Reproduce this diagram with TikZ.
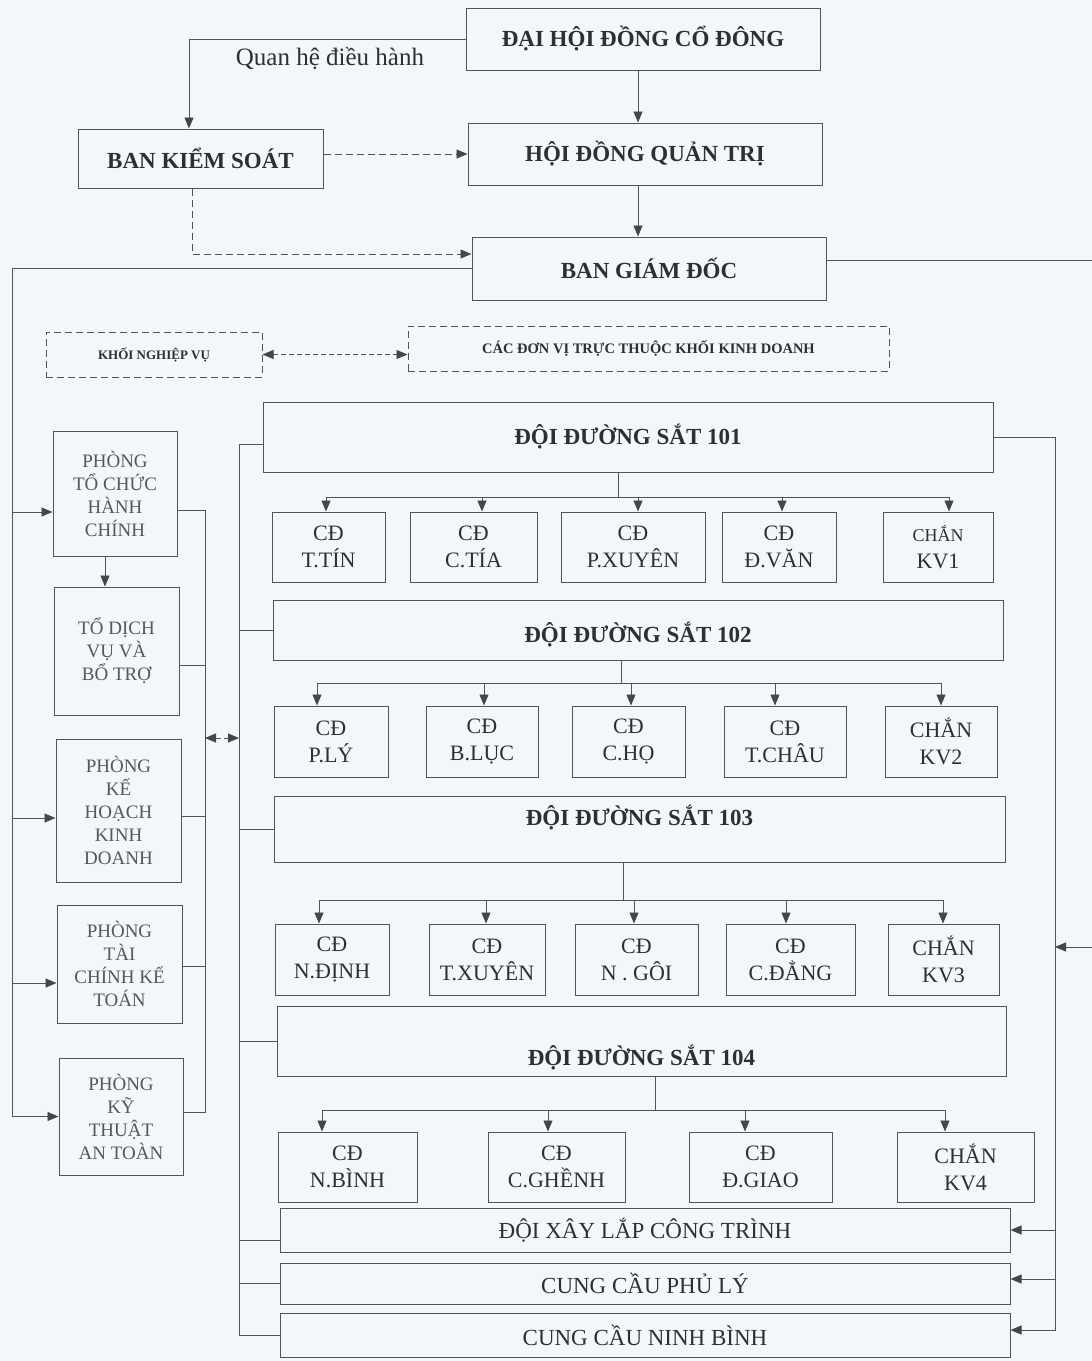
\documentclass[tikz,border=0pt]{standalone}
\usepackage{fontspec}
\setmainfont{Liberation Serif}
\usetikzlibrary{arrows.meta}
\definecolor{bgc}{RGB}{244,247,249}
\definecolor{linec}{RGB}{80,84,86}
\definecolor{textc}{RGB}{45,47,49}
\definecolor{lightt}{RGB}{85,88,90}
\definecolor{arrc}{RGB}{60,74,72}
\begin{document}
\begin{tikzpicture}[x=1pt,y=-1pt,
  box/.style={draw=linec, line width=1pt, align=center, text=textc, inner sep=2pt},
  bx/.style 2 args={box, minimum width=#1, minimum height=#2},
  big/.style={font=\fontsize{23}{27}\selectfont\bfseries},
  mid/.style={font=\fontsize{22}{27}\selectfont},
  lft/.style={font=\fontsize{19}{23}\selectfont, text=lightt},
  wide/.style={font=\fontsize{23}{27}\selectfont},
  sml/.style={font=\fontsize{13}{15}\selectfont\bfseries},
  ln/.style={draw=linec, line width=0.9pt},
  arr/.style={ln, -{Triangle[length=11pt,width=9pt,color=arrc]}},
  dsh/.style={dash pattern=on 7pt off 4pt},
  dbl/.style={ln, dash pattern=on 5pt off 3pt, {Triangle[length=11pt,width=9pt,color=arrc]}-{Triangle[length=11pt,width=9pt,color=arrc]}},
]
\fill[bgc] (0,0) rectangle (1092,1361);
\useasboundingbox (0,0) rectangle (1092,1361);

% top level
\node[bx={354}{62}, big] (dhd) at (643,39) {ĐẠI HỘI ĐỒNG CỔ ĐÔNG};
\node[bx={245}{59}, big] (bks) at (200.5,158.5) {BAN KIỂM SOÁT};
\node[bx={354}{62}, big] (hdqt) at (645,154) {HỘI ĐỒNG QUẢN TRỊ};
\node[bx={354}{63}, big] (bgd) at (649,268.5) {BAN GIÁM ĐỐC};
\node[font=\fontsize{25}{29}\selectfont, text=textc] (qh) at (330,59) {Quan hệ điều hành};

\node[bx={216}{45}, sml, dsh] (knv) at (154,354.5) {KHỐI NGHIỆP VỤ};
\node[bx={481}{45}, font=\fontsize{14.5}{16}\selectfont\bfseries, dsh] (cdv) at (648.5,348.5) {CÁC ĐƠN VỊ TRỰC THUỘC KHỐI KINH DOANH};

% left column
\node[bx={124}{125}, lft] (ptc) at (115,493.5) {PHÒNG\\TỔ CHỨC\\HÀNH\\CHÍNH};
\node[bx={125}{128}, lft] (tdv) at (116.5,651) {TỔ DỊCH\\VỤ VÀ\\BỔ TRỢ};
\node[bx={125}{143}, lft] (pkh) at (118.5,810.5) {PHÒNG\\KẾ\\HOẠCH\\KINH\\DOANH};
\node[bx={125}{118}, lft] (ptck) at (119.5,964) {PHÒNG\\TÀI\\CHÍNH KẾ\\TOÁN};
\node[bx={124}{117}, lft] (pkt) at (121,1116.5) {PHÒNG\\KỸ\\THUẬT\\AN TOÀN};

% railway teams
\node[bx={730}{70}, label={[big,text=textc]center:ĐỘI ĐƯỜNG SẮT 101}] (d101) at (628,437) {};
\node[bx={730}{60}, label={[big,text=textc,yshift=-5pt]center:ĐỘI ĐƯỜNG SẮT 102}] (d102) at (638,630) {};
\node[bx={731}{66}, label={[big,text=textc,yshift=11pt]center:ĐỘI ĐƯỜNG SẮT 103}] (d103) at (639.5,829) {};
\node[bx={729}{70}, label={[big,text=textc,yshift=-17pt]center:ĐỘI ĐƯỜNG SẮT 104}] (d104) at (641.5,1041) {};

% row 1
\node[bx={113}{70}, mid] (r1a) at (328.5,547) {CĐ\\T.TÍN};
\node[bx={127}{70}, mid] (r1b) at (473.5,547) {CĐ\\C.TÍA};
\node[bx={144}{70}, mid] (r1c) at (633,547) {CĐ\\P.XUYÊN};
\node[bx={114}{70}, mid] (r1d) at (779,547) {CĐ\\Đ.VĂN};
\node[bx={110}{70}, mid] (r1e) at (938,547) {{\fontsize{18}{20}\selectfont CHẮN}\\KV1};
% row 2
\node[bx={114}{71}, mid] (r2a) at (331,741.5) {CĐ\\P.LÝ};
\node[bx={112}{71}, mid] (r2b) at (482,741.5) {CĐ\\B.LỤC};
\node[bx={113}{71}, mid] (r2c) at (628.5,741.5) {CĐ\\C.HỌ};
\node[bx={122}{71}, mid] (r2d) at (785,741.5) {CĐ\\T.CHÂU};
\node[bx={112}{71}, mid] (r2e) at (941,741.5) {CHẮN\\KV2};
% row 3
\node[bx={114}{71}, mid] (r3a) at (332,959.5) {CĐ\\N.ĐỊNH};
\node[bx={116}{71}, mid] (r3b) at (487,959.5) {CĐ\\T.XUYÊN};
\node[bx={123}{71}, mid] (r3c) at (636.5,959.5) {CĐ\\N . GÔI};
\node[bx={129}{71}, mid] (r3d) at (790.5,959.5) {CĐ\\C.ĐẲNG};
\node[bx={111}{71}, mid] (r3e) at (943.5,959.5) {CHẮN\\KV3};
% row 4
\node[bx={139}{70}, mid] (r4a) at (347.5,1167) {CĐ\\N.BÌNH};
\node[bx={137}{70}, mid] (r4b) at (556.5,1167) {CĐ\\C.GHỀNH};
\node[bx={143}{70}, mid] (r4c) at (760.5,1167) {CĐ\\Đ.GIAO};
\node[bx={137}{70}, mid] (r4d) at (965.5,1167) {CHẮN\\KV4};

% bottom wide boxes
\node[bx={730}{44}, wide] (dxl) at (645,1230) {ĐỘI XÂY LẮP CÔNG TRÌNH};
\node[bx={730}{41}, wide] (ccpl) at (645,1283.5) {CUNG CẦU PHỦ LÝ};
\node[bx={730}{44}, wide] (ccnb) at (645,1335) {CUNG CẦU NINH BÌNH};

% coordinates for buses
\coordinate (a1) at (638,0);
\coordinate (b1) at (192,0);
\coordinate (lb) at (12,0);
\coordinate (ib) at (205,0);
\coordinate (rb) at (239,0);
\coordinate (fb) at (1055,0);
\coordinate (redge) at (1092,947);
\coordinate (redge2) at (1092,260);

% top connectors
\draw[arr] (dhd.west) -| (bks.north -| 189,0);
\draw[arr] (dhd.south -| a1) -- (hdqt.north -| a1);
\draw[arr] (hdqt.south -| a1) -- (bgd.north -| a1);
\draw[arr, dsh] (bks.east |- 0,154) -- (hdqt.west);
\draw[arr, dsh] (bks.south -| b1) |- (bgd.west |- 0,254);
\draw[dbl] (knv.east) -- (cdv.west |- knv.east);

% left outer bus
\draw[arr] (bgd.west) -- (bgd.west -| lb) |- (pkt.west);
\draw[arr] (lb |- 0,512) -- (ptc.west |- 0,512);
\draw[arr] (lb |- 0,818) -- (pkh.west |- 0,818);
\draw[arr] (lb |- 0,983) -- (ptck.west |- 0,983);
\draw[arr] (ptc.south -| 105,0) -- (tdv.north -| 105,0);

% inner left bus
\draw[ln] (ptc.east |- 0,510) -- (ib |- 0,510) -- (ib |- 0,1112) -- (pkt.east |- 0,1112);
\draw[ln] (tdv.east |- 0,665) -- (ib |- 0,665);
\draw[ln] (pkh.east |- 0,816) -- (ib |- 0,816);
\draw[ln] (ptck.east |- 0,966) -- (ib |- 0,966);
\draw[dbl] (ib |- 0,738) -- (rb |- 0,738);

% right-hand bus to units
\draw[ln] (d101.west |- 0,444) -- (rb |- 0,444) -- (rb |- ccnb.west) -- (ccnb.west);
\draw[ln] (rb |- d102.west) -- (d102.west);
\draw[ln] (rb |- d103.west) -- (d103.west);
\draw[ln] (rb |- d104.west) -- (d104.west);
\draw[ln] (rb |- 0,1240) -- (dxl.west |- 0,1240);
\draw[ln] (rb |- ccpl.west) -- (ccpl.west);

% far right bus
\draw[ln] (bgd.east |- redge2) -- (redge2);
\draw[arr] (d101.east) -- (d101.east -| fb) -- (fb |- 0,1330) -- (ccnb.east |- 0,1330);
\draw[arr] (fb |- dxl.east) -- (dxl.east);
\draw[arr] (fb |- 0,1279) -- (ccpl.east |- 0,1279);
\draw[arr] (redge) -- (fb |- redge);

% row 1 connectors
\draw[ln] (d101.south -| 618,0) -- (618,497);
\draw[ln] (326,497) -- (949,497);
\draw[arr] (326,497) -- (r1a.north -| 326,0);
\draw[arr] (482,497) -- (r1b.north -| 482,0);
\draw[arr] (638,497) -- (r1c.north -| 638,0);
\draw[arr] (782,497) -- (r1d.north -| 782,0);
\draw[arr] (949,497) -- (r1e.north -| 949,0);
% row 2
\draw[ln] (d102.south -| 621,0) -- (621,683);
\draw[ln] (317,683) -- (941,683);
\draw[arr] (317,683) -- (r2a.north -| 317,0);
\draw[arr] (484,683) -- (r2b.north -| 484,0);
\draw[arr] (631,683) -- (r2c.north -| 631,0);
\draw[arr] (775,683) -- (r2d.north -| 775,0);
\draw[arr] (941,683) -- (r2e.north -| 941,0);
% row 3
\draw[ln] (d103.south -| 623,0) -- (623,900);
\draw[ln] (319,900) -- (943,900);
\draw[arr] (319,900) -- (r3a.north -| 319,0);
\draw[arr] (486,900) -- (r3b.north -| 486,0);
\draw[arr] (634,900) -- (r3c.north -| 634,0);
\draw[arr] (786,900) -- (r3d.north -| 786,0);
\draw[arr] (943,900) -- (r3e.north -| 943,0);
% row 4
\draw[ln] (d104.south -| 655,0) -- (655,1110);
\draw[ln] (322,1110) -- (945,1110);
\draw[arr] (322,1110) -- (r4a.north -| 322,0);
\draw[arr] (548,1110) -- (r4b.north -| 548,0);
\draw[arr] (745,1110) -- (r4c.north -| 745,0);
\draw[arr] (945,1110) -- (r4d.north -| 945,0);
\end{tikzpicture}
\end{document}
